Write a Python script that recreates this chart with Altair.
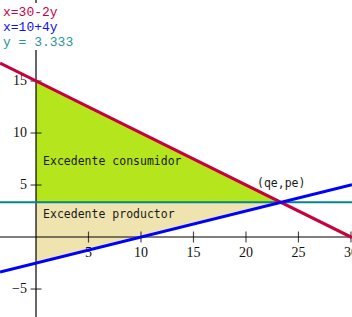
import altair as alt
import pandas as pd

# ---- data ----
x_domain = [-3.43, 30.1]
y_domain = [-7.69, 22.79]

demand_x = [-3.43, 30.1]          # x = 30 - 2y
demand_y = [16.715, -0.05]
supply_x = [-3.43, 30.1]          # x = 10 + 4y
supply_y = [-3.358, 5.025]
pe_y = 3.333                      # y = 3.333
qe_x = 23.333

cons_x = [0, 23.333]
cons_top = [15, 3.333]
prod_x = [0, 23.333]
prod_bottom = [-2.5, 3.333]

x_ticks = [5, 10, 15, 20, 25, 30]
x_tick_labels = ["5", "10", "15", "20", "25", "30"]
y_ticks = [-5, 5, 10, 15]
y_tick_labels = ["\u22125", "5", "10", "15"]

legend_text = ["x=30-2y", "x=10+4y", "y = 3.333"]
legend_color = ["#cc0044", "#1010ee", "#2a9494"]
legend_ypix = [12, 27, 42]

area_labels = ["Excedente consumidor", "Excedente productor", "(qe,pe)"]
area_label_x = [0.67, 0.67, 21.05]
area_label_y = [7.2, 2.07, 5.1]

# ---- scales ----
X = lambda f="x": alt.X(f, type="quantitative", scale=alt.Scale(domain=x_domain, nice=False, zero=False), axis=None)
Y = lambda f="y": alt.Y(f, type="quantitative", scale=alt.Scale(domain=y_domain, nice=False, zero=False), axis=None)

cons_df = pd.DataFrame({"x": cons_x, "y": cons_top, "y2": [pe_y, pe_y]})
prod_df = pd.DataFrame({"x": prod_x, "y": [pe_y, pe_y], "y2": prod_bottom})

cons = alt.Chart(cons_df).mark_area(color="#b5e61d", opacity=1).encode(x=X(), y=Y(), y2="y2")
prod = alt.Chart(prod_df).mark_area(color="#efe4b0", opacity=1).encode(x=X(), y=Y(), y2="y2")

axes_df = pd.DataFrame({"x": [x_domain[0], 0], "x2": [x_domain[1], 0],
                        "y": [0, y_domain[0]], "y2": [0, y_domain[1]]})
axes = alt.Chart(axes_df).mark_rule(color="black", strokeWidth=1.2).encode(
    x=X(), x2="x2", y=Y(), y2="y2")

xt_df = pd.DataFrame({"x": x_ticks, "y": [0] * len(x_ticks), "label": x_tick_labels})
yt_df = pd.DataFrame({"x": [0] * len(y_ticks), "y": y_ticks, "label": y_tick_labels})

xticks = alt.Chart(xt_df).mark_tick(orient="vertical", size=11, thickness=1.2, color="black").encode(x=X(), y=Y())
yticks = alt.Chart(yt_df).mark_tick(orient="horizontal", size=11, thickness=1.2, color="black").encode(x=X(), y=Y())

xlabels = alt.Chart(xt_df).mark_text(font="Liberation Serif", fontSize=14, dy=16, baseline="middle",
                                     align="center", color="#111").encode(x=X(), y=Y(), text="label")
ylabels = alt.Chart(yt_df).mark_text(font="Liberation Serif", fontSize=14, dx=-9, baseline="middle",
                                     align="right", color="#111").encode(x=X(), y=Y(), text="label")

pe_df = pd.DataFrame({"x": [x_domain[0]], "x2": [x_domain[1]], "y": [pe_y]})
pe_line = alt.Chart(pe_df).mark_rule(color="#00868b", strokeWidth=2).encode(x=X(), x2="x2", y=Y())

dem_df = pd.DataFrame({"x": demand_x, "y": demand_y})
sup_df = pd.DataFrame({"x": supply_x, "y": supply_y})
dem = alt.Chart(dem_df).mark_line(color="#c8003c", strokeWidth=3, clip=True).encode(x=X(), y=Y())
sup = alt.Chart(sup_df).mark_line(color="#0000ff", strokeWidth=3, clip=True).encode(x=X(), y=Y())

lab_df = pd.DataFrame({"x": area_label_x, "y": area_label_y, "label": area_labels})
labs = alt.Chart(lab_df).mark_text(font="DejaVu Sans Mono", fontSize=11.5, align="left",
                                   baseline="middle", color="#1a1a1a").encode(x=X(), y=Y(), text="label")

# white box behind the equation legend (hides the y axis there, as in the reference)
leg_bg = alt.Chart(pd.DataFrame({"k": [0]})).mark_rect(color="white").encode(
    x=alt.value(0), x2=alt.value(80), y=alt.value(3), y2=alt.value(50))

leg_df = pd.DataFrame({"label": legend_text, "c": legend_color, "py": legend_ypix})
leg = alt.Chart(leg_df).mark_text(font="Liberation Mono", fontSize=13, align="left",
                                  baseline="middle").encode(
    x=alt.value(3), y=alt.Y("py:Q", scale=None), text="label", color=alt.Color("c:N", scale=None))

chart = alt.layer(cons, prod, axes, xticks, yticks, xlabels, ylabels, pe_line, dem, sup, labs, leg_bg, leg).properties(
    width=352, height=317, padding=0, autosize=alt.AutoSizeParams(type="none"), background="white"
).configure_view(stroke=None)

chart.save("out.html", embed_options={"renderer": "svg", "actions": False})
